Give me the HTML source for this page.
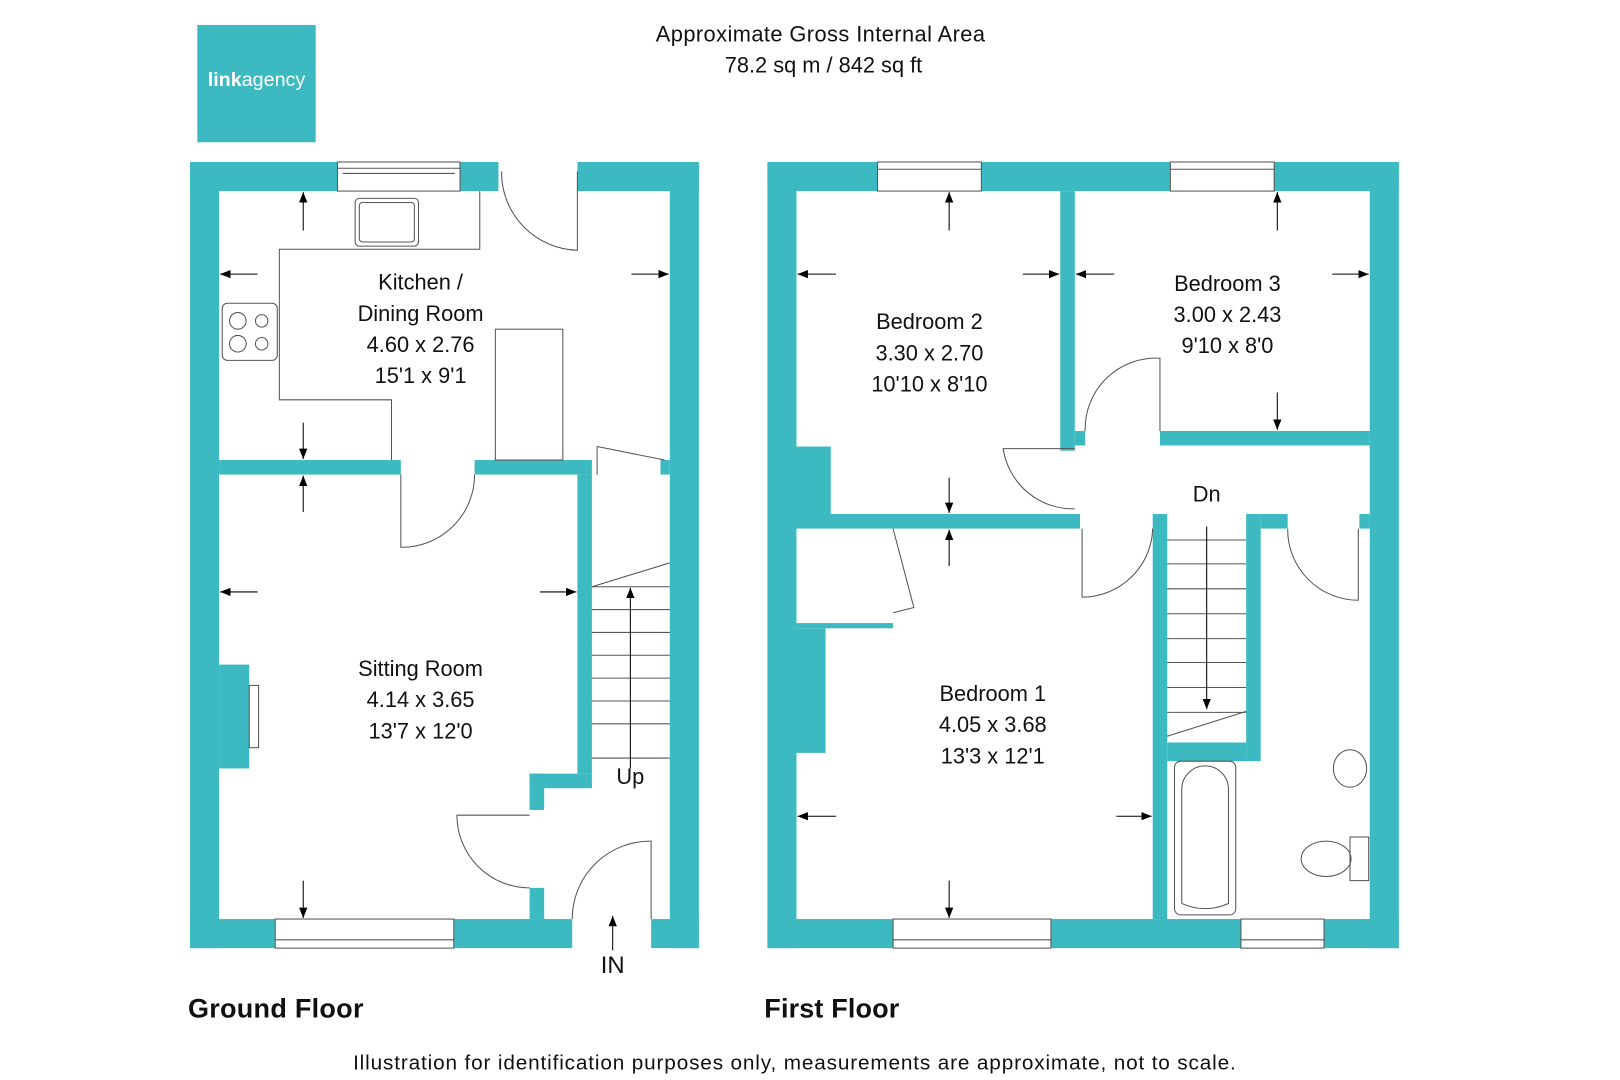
<!DOCTYPE html>
<html><head><meta charset="utf-8"><style>
html,body{margin:0;padding:0;background:#fff}
svg{display:block}
text{font-family:"Liberation Sans",Arial,sans-serif;fill:#111}
</style></head><body>
<svg width="1620" height="1080" viewBox="0 0 1560 1040" xmlns="http://www.w3.org/2000/svg">
<defs>
<marker id="ah" markerWidth="10" markerHeight="8" refX="10" refY="4" orient="auto" markerUnits="userSpaceOnUse"><path d="M0,0 L10,4 L0,8 z" fill="#000"/></marker>
</defs>
<rect x="190" y="24" width="114" height="113" fill="#3dbac1"/>
<text x="247" y="83" text-anchor="middle" font-size="19" style="fill:#fff"><tspan font-weight="bold">link</tspan>agency</text>
<text x="790" y="40" text-anchor="middle" font-size="21" textLength="317">Approximate Gross Internal Area</text>
<text x="793" y="70" text-anchor="middle" font-size="21">78.2 sq m / 842 sq ft</text>

<g fill="#3dbac1">
<rect x="183" y="156" width="142" height="28"/>
<rect x="443" y="156" width="37" height="28"/>
<rect x="556" y="156" width="117" height="28"/>
<rect x="183" y="156" width="28" height="757"/>
<rect x="645" y="156" width="28" height="757"/>
<rect x="183" y="885" width="82" height="28"/>
<rect x="437" y="885" width="114" height="28"/>
<rect x="627" y="885" width="46" height="28"/>
<rect x="211" y="443" width="175" height="14"/>
<rect x="457" y="443" width="113" height="14"/>
<rect x="636" y="443" width="9" height="14"/>
<rect x="556" y="457" width="14" height="288"/>
<rect x="510" y="745" width="60" height="14"/>
<rect x="510" y="745" width="14" height="35"/>
<rect x="510" y="855" width="14" height="30"/>
<rect x="211" y="640" width="29" height="100"/>
<rect x="739" y="156" width="106" height="28"/>
<rect x="945" y="156" width="182" height="28"/>
<rect x="1227" y="156" width="120" height="28"/>
<rect x="739" y="156" width="28" height="757"/>
<rect x="1319" y="156" width="28" height="757"/>
<rect x="739" y="885" width="121" height="28"/>
<rect x="1012" y="885" width="183" height="28"/>
<rect x="1275" y="885" width="72" height="28"/>
<rect x="1021" y="184" width="14" height="250"/>
<rect x="1035" y="415" width="10" height="14"/>
<rect x="1117" y="415" width="202" height="14"/>
<rect x="767" y="430" width="33" height="67"/>
<rect x="767" y="495" width="273" height="14"/>
<rect x="767" y="600" width="93" height="5"/>
<rect x="767" y="605" width="28" height="120"/>
<rect x="1110" y="495" width="14" height="390"/>
<rect x="1200" y="495" width="14" height="233"/>
<rect x="1124" y="715" width="76" height="13"/>
<rect x="1214" y="495" width="26" height="14"/>
<rect x="1309" y="495" width="10" height="14"/>
<rect x="1124" y="728" width="90" height="5"/>
</g>
<g fill="none" stroke="#555" stroke-width="1">
<rect x="325" y="156" width="118" height="28"/><line x1="325" y1="162" x2="443" y2="162"/><line x1="330" y1="167" x2="438" y2="167"/>
<rect x="265" y="885" width="172" height="28"/><line x1="265" y1="905" x2="437" y2="905"/>
<rect x="845" y="156" width="100" height="28"/><line x1="845" y1="163" x2="945" y2="163"/>
<rect x="1127" y="156" width="100" height="28"/><line x1="1127" y1="163" x2="1227" y2="163"/>
<rect x="860" y="885" width="152" height="28"/><line x1="860" y1="905" x2="1012" y2="905"/>
<rect x="1195" y="885" width="80" height="28"/><line x1="1195" y1="905" x2="1275" y2="905"/>
<path d="M462 184 V240 H269 V385 H377 V443"/>
<rect x="477" y="317" width="65" height="126"/>
<rect x="342" y="191" width="61" height="46" rx="4"/><rect x="346" y="195" width="53" height="38" rx="3"/>
<rect x="214" y="292" width="53" height="55" rx="5"/>
<circle cx="229" cy="309" r="8"/><circle cx="252" cy="309" r="6"/><circle cx="229" cy="331" r="8"/><circle cx="252" cy="331" r="6"/>
<path d="M483 165 A75 75 0 0 0 556 241 V165"/>
<path d="M386 457 V527 A70 70 0 0 0 457 457"/>
<path d="M575 430 L640 443 M575 430 V457"/>
<path d="M510 855 A70 70 0 0 1 440 785 H510"/>
<path d="M551 885 A75 75 0 0 1 627 810 V885"/>
<path d="M1035 432 H966 A68 68 0 0 0 1035 490"/>
<path d="M1045 415 A68 68 0 0 1 1117 345 V415"/>
<path d="M1042 509 V575 A68 68 0 0 0 1110 509"/>
<path d="M1240 509 A68 68 0 0 0 1308 578 V509"/>
<path d="M860 509 L880 585 L860 590"/>
<rect x="240" y="660" width="9" height="60"/>
<path d="M570 565 L645 542 M570 565 H645"/>
<path d="M570 587 H645 M570 609 H645 M570 631 H645 M570 653 H645 M570 675 H645 M570 697 H645 M570 730 H645"/>
<path d="M1124 520 H1200 M1124 543 H1200 M1124 567 H1200 M1124 591 H1200 M1124 615 H1200 M1124 638 H1200 M1124 662 H1200 M1124 686 H1200 M1124 709 L1200 685"/>
<rect x="1131" y="733" width="59" height="148" rx="6"/>
<path d="M1138 870 V760 A22 22 0 0 1 1183 760 V870 Q1160 880 1138 870"/>
<ellipse cx="1300" cy="740" rx="16" ry="18"/>
<ellipse cx="1277" cy="827" rx="24" ry="17"/>
<rect x="1300" y="806" width="18" height="42"/>
</g>
<g stroke="#000" stroke-width="1" marker-end="url(#ah)">
<line x1="292" y1="222" x2="292" y2="185"/>
<line x1="292" y1="407" x2="292" y2="442"/>
<line x1="292" y1="493" x2="292" y2="458"/>
<line x1="248" y1="264" x2="212" y2="264"/>
<line x1="608" y1="264" x2="644" y2="264"/>
<line x1="248" y1="570" x2="212" y2="570"/>
<line x1="520" y1="570" x2="555" y2="570"/>
<line x1="292" y1="848" x2="292" y2="884"/>
<line x1="607" y1="740" x2="607" y2="566"/>
<line x1="590" y1="915" x2="590" y2="882"/>
<line x1="914" y1="222" x2="914" y2="185"/>
<line x1="805" y1="264" x2="768" y2="264"/>
<line x1="985" y1="264" x2="1020" y2="264"/>
<line x1="1073" y1="264" x2="1036" y2="264"/>
<line x1="1283" y1="264" x2="1318" y2="264"/>
<line x1="1230" y1="222" x2="1230" y2="185"/>
<line x1="1230" y1="378" x2="1230" y2="414"/>
<line x1="914" y1="460" x2="914" y2="494"/>
<line x1="914" y1="545" x2="914" y2="510"/>
<line x1="805" y1="786" x2="768" y2="786"/>
<line x1="1075" y1="786" x2="1109" y2="786"/>
<line x1="914" y1="848" x2="914" y2="884"/>
<line x1="1162" y1="507" x2="1162" y2="683"/>
</g>
<g font-size="21" text-anchor="middle">
<text x="405" y="279">Kitchen /</text><text x="405" y="309">Dining Room</text><text x="405" y="339">4.60 x 2.76</text><text x="405" y="369">15'1 x 9'1</text>
<text x="405" y="651">Sitting Room</text><text x="405" y="681">4.14 x 3.65</text><text x="405" y="711">13'7 x 12'0</text>
<text x="895" y="317">Bedroom 2</text><text x="895" y="347">3.30 x 2.70</text><text x="895" y="377">10'10 x 8'10</text>
<text x="1182" y="280">Bedroom 3</text><text x="1182" y="310">3.00 x 2.43</text><text x="1182" y="340">9'10 x 8'0</text>
<text x="956" y="675">Bedroom 1</text><text x="956" y="705">4.05 x 3.68</text><text x="956" y="735">13'3 x 12'1</text>
<text x="607" y="755">Up</text><text x="1162" y="483">Dn</text><text x="590" y="937" font-size="23">IN</text>
</g>
<text x="181" y="980" font-size="26" font-weight="bold" textLength="169">Ground Floor</text>
<text x="736" y="980" font-size="26" font-weight="bold" textLength="130">First Floor</text>
<text x="340" y="1030" font-size="20" textLength="850">Illustration for identification purposes only, measurements are approximate, not to scale.</text>
</svg>
</body></html>
